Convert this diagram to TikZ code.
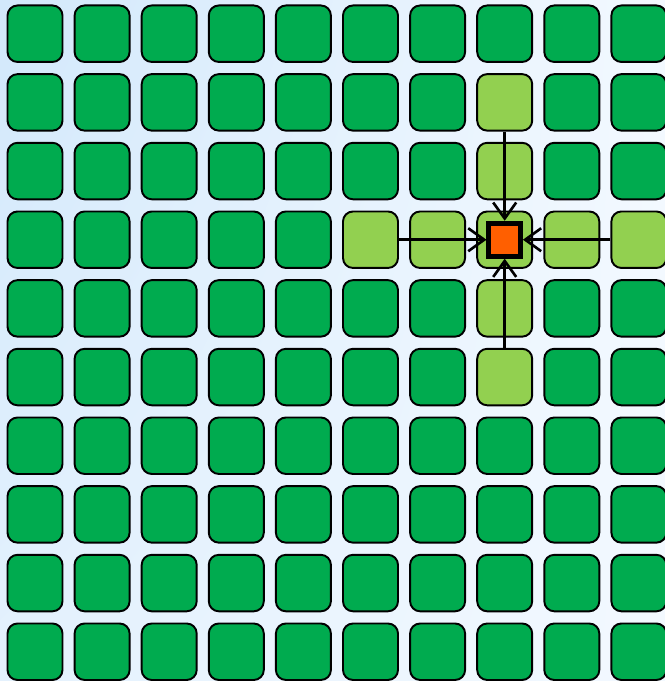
\documentclass[tikz,border=0pt]{standalone}
\usetikzlibrary{arrows.meta,shadings}
\definecolor{cellgreen}{HTML}{00AB4F}
\definecolor{litegreen}{HTML}{92D050}
\definecolor{hotorange}{HTML}{FF5F00}
\definecolor{skyleft}{HTML}{D2E8FB}
\definecolor{skyright}{HTML}{F3F9FF}
\begin{document}
\begin{tikzpicture}[x=0.02cm, y=-0.02cm,
    cell/.style={draw=black, line width=1.1pt, rounded corners=0.2cm, fill=cellgreen,
      minimum width=1.1cm, minimum height=1.13cm, inner sep=0pt},
    near/.style={cell, fill=litegreen},
    target/.style={draw=black, line width=2.8pt, fill=hotorange,
      minimum width=0.63cm, minimum height=0.66cm, inner sep=0pt},
    feed/.style={line width=1.5pt, -{Straight Barb[length=3.2mm,width=4.6mm]}}]
  \useasboundingbox (0,0) rectangle (665,681);
  \clip (0,0) rectangle (665,681);
  \shade[upper left=skyleft, lower left=skyleft!45!skyright,
    upper right=skyright, lower right=skyright] (0,0) rectangle (665,681);
  % grid of cells, the cross round the target in light green
  \foreach \r in {1,...,10}
    \foreach \c in {1,...,10}{
      \pgfmathtruncatemacro\lit{(\c==8 && \r>1 && \r<7) || (\r==4 && \c>5)}
      \ifnum\lit=1 \def\kind{near}\else\def\kind{cell}\fi
      \node[\kind] (c\r-\c) at ({35+(\c-1)*67.1}, {33.7+(\r-1)*68.67}) {};
    }
  \node[target] (hit) at (c4-8) {};
  \draw[feed] (c2-8.south) -- (hit.north);
  \draw[feed] (c6-8.north) -- (hit.south);
  \draw[feed] (c4-6.east) -- (hit.west);
  \draw[feed] (c4-10.west) -- (hit.east);
\end{tikzpicture}
\end{document}
